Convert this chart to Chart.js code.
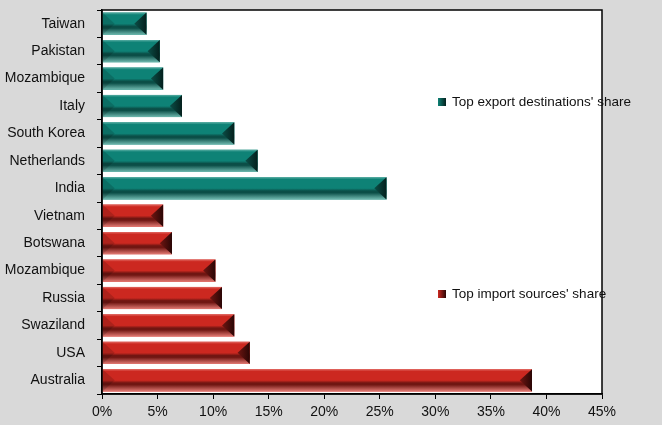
<!DOCTYPE html>
<html>
<head>
<meta charset="utf-8">
<script src="https://cdn.jsdelivr.net/npm/chart.js@4/dist/chart.umd.min.js"></script>
<style>
html,body{margin:0;padding:0;background:#d9d9d9;}
#wrap{width:662px;height:425px;position:relative;}
</style>
</head>
<body>
<div id="wrap"><canvas id="c" width="662" height="425"></canvas></div>
<script>
const categories = ["Taiwan","Pakistan","Mozambique","Italy","South Korea","Netherlands","India",
                    "Vietnam","Botswana","Mozambique","Russia","Swaziland","USA","Australia"];
const exportShare = [4.0, 5.2, 5.5, 7.2, 11.9, 14.0, 25.6, null, null, null, null, null, null, null];
const importShare = [null, null, null, null, null, null, null, 5.5, 6.3, 10.2, 10.8, 11.9, 13.3, 38.7];
const exportLabel = "Top export destinations' share";
const importLabel = "Top import sources' share";
const xTicks = [0,5,10,15,20,25,30,35,40,45];

const palettes = {
  teal: {top:'#5aaea4', main:'#0e8276', band:'#0b4e47', bottom:'#70bab0', tip:'#04201d'},
  red:  {top:'#e26a63', main:'#cc2820', band:'#701612', bottom:'#e47b75', tip:'#2a0605'}
};

const bgPlugin = {
  id:'bg',
  beforeDraw(chart){
    const {ctx, chartArea:a} = chart;
    ctx.save();
    ctx.fillStyle = '#d9d9d9';
    ctx.fillRect(0,0,chart.width,chart.height);
    ctx.fillStyle = '#ffffff';
    ctx.fillRect(a.left,a.top,a.right-a.left,a.bottom-a.top);
    ctx.restore();
  },
  afterDraw(chart){
    const {ctx, chartArea:a} = chart;
    ctx.save();
    ctx.strokeStyle = '#000';
    ctx.lineWidth = 1.5;
    ctx.strokeRect(a.left,a.top,a.right-a.left,a.bottom-a.top);
    ctx.restore();
  }
};

const bevelPlugin = {
  id:'bevel',
  afterDatasetsDraw(chart){
    const ctx = chart.ctx;
    chart.data.datasets.forEach((ds, di) => {
      const pal = palettes[ds.pal];
      const meta = chart.getDatasetMeta(di);
      meta.data.forEach((el, i) => {
        if (ds.data[i] == null) return;
        const p = el.getProps(['x','y','base','height'], true);
        const l = p.base, r = p.x, h = p.height, t = p.y - h/2, b = p.y + h/2;
        ctx.save();
        const g = ctx.createLinearGradient(0,t,0,b);
        g.addColorStop(0, pal.top);
        g.addColorStop(0.1, pal.main);
        g.addColorStop(0.5, pal.main);
        g.addColorStop(0.62, pal.band);
        g.addColorStop(0.7, pal.band);
        g.addColorStop(1, pal.bottom);
        ctx.fillStyle = g;
        ctx.fillRect(l, t, r-l, h);
        const d = h*0.55;
        ctx.beginPath();
        ctx.moveTo(l,t); ctx.lineTo(l+d,p.y); ctx.lineTo(l,b); ctx.closePath();
        ctx.fillStyle = 'rgba(0,0,0,0.15)';
        ctx.fill();
        ctx.beginPath();
        ctx.moveTo(r,t); ctx.lineTo(r-d,p.y); ctx.lineTo(r,b); ctx.closePath();
        const g2 = ctx.createLinearGradient(r-d,0,r,0);
        g2.addColorStop(0, pal.band);
        g2.addColorStop(1, pal.tip);
        ctx.fillStyle = g2;
        ctx.fill();
        ctx.restore();
      });
    });
  }
};

const legendPlugin = {
  id:'customLegend',
  afterDraw(chart){
    const ctx = chart.ctx;
    const items = [
      {label: exportLabel, pal: palettes.teal, x: 438, y: 102},
      {label: importLabel, pal: palettes.red, x: 438, y: 294}
    ];
    ctx.save();
    items.forEach(it => {
      const g = ctx.createLinearGradient(it.x,0,it.x+8,0);
      g.addColorStop(0, it.pal.main);
      g.addColorStop(1, it.pal.tip);
      ctx.fillStyle = g;
      ctx.fillRect(it.x, it.y-4, 8, 8);
      ctx.fillStyle = '#111';
      ctx.font = '13.5px "Liberation Sans", Arial, sans-serif';
      ctx.textBaseline = 'middle';
      ctx.textAlign = 'left';
      ctx.fillText(it.label, it.x+14, it.y);
    });
    ctx.restore();
  }
};

new Chart(document.getElementById('c'), {
  type:'bar',
  data:{
    labels: categories,
    datasets:[
      {label: exportLabel, data: exportShare, pal:'teal', backgroundColor:'#0e8276', grouped:false,
       barPercentage:0.81, categoryPercentage:1.0},
      {label: importLabel, data: importShare, pal:'red', backgroundColor:'#cc2820', grouped:false,
       barPercentage:0.81, categoryPercentage:1.0}
    ]
  },
  options:{
    indexAxis:'y',
    responsive:false,
    animation:false,
    layout:{padding:{top:10, right:60, left:0, bottom:0}},
    plugins:{legend:{display:false}, tooltip:{enabled:false}},
    scales:{
      x:{
        min:0, max:45,
        afterBuildTicks(s){ s.ticks = xTicks.map(v => ({value:v})); },
        ticks:{callback:v => v + '%', color:'#111', padding:5, maxRotation:0,
               font:{family:'"Liberation Sans", Arial, sans-serif', size:14}},
        grid:{display:true, drawOnChartArea:false, tickLength:5, color:'#000', lineWidth:1},
        border:{display:true, color:'#000', width:1.5},
        afterFit(s){ s.height = 31; s.paddingLeft = 0; s.paddingRight = 0; }
      },
      y:{
        offset:true,
        ticks:{color:'#111', padding:12,
               font:{family:'"Liberation Sans", Arial, sans-serif', size:14}},
        grid:{display:true, offset:true, drawOnChartArea:false, tickLength:5, color:'#000', lineWidth:1},
        border:{display:true, color:'#000', width:1.5},
        afterFit(s){ s.width = 102; s.paddingTop = 0; s.paddingBottom = 0; }
      }
    }
  },
  plugins:[bgPlugin, bevelPlugin, legendPlugin]
});
</script>
</body>
</html>
